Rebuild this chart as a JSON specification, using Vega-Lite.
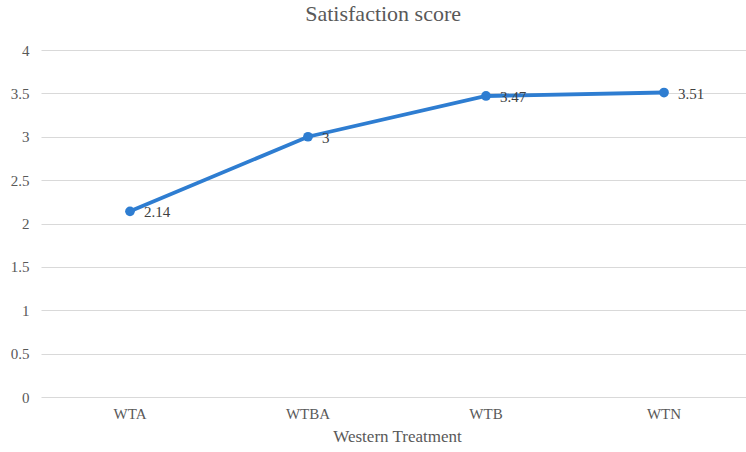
{
  "$schema": "https://vega.github.io/schema/vega-lite/v6.json",
  "autosize": {"type": "none"},
  "padding": {"left": 41, "top": 50, "right": 0, "bottom": 55},
  "width": 712,
  "height": 347,
  "background": "white",
  "config": {"view": {"stroke": null}, "font": "Liberation Serif",
    "axis": {"labelFont": "Liberation Serif", "titleFont": "Liberation Serif"},
    "text": {"font": "Liberation Serif"}},
  "title": {"text": "Satisfaction score", "fontSize": 22, "font": "Liberation Serif", "fontWeight": "normal", "color": "#595959", "anchor": "start", "dx": 295, "offset": 17},
  "data": {"values": [
    {"treatment": "WTA", "score": 2.14},
    {"treatment": "WTBA", "score": 3},
    {"treatment": "WTB", "score": 3.47},
    {"treatment": "WTN", "score": 3.51}
  ]},
  "encoding": {
    "x": {"field": "treatment", "type": "nominal", "sort": null,
      "scale": {"type": "band", "paddingInner": 0, "paddingOuter": 0},
      "axis": {"title": "Western Treatment", "labelAngle": 0, "domain": false, "ticks": false, "grid": false,
        "labelFont": "Liberation Serif", "labelFontSize": 15, "labelColor": "#595959", "labelPadding": 9,
        "titleFont": "Liberation Serif", "titleFontSize": 17, "titleFontWeight": "normal", "titleColor": "#595959", "titlePadding": 7}},
    "y": {"field": "score", "type": "quantitative",
      "scale": {"domain": [0, 4], "nice": false},
      "axis": {"title": null, "values": [0, 0.5, 1, 1.5, 2, 2.5, 3, 3.5, 4], "format": "~g", "domain": false, "ticks": false,
        "grid": true, "gridColor": "#D9D9D9", "gridWidth": 1.2,
        "labelFont": "Liberation Serif", "labelFontSize": 15, "labelColor": "#595959", "labelPadding": 12}}
  },
  "layer": [
    {"mark": {"type": "line", "color": "#2E7DD1", "strokeWidth": 3.8}},
    {"mark": {"type": "point", "filled": true, "opacity": 1, "color": "#2E7DD1", "size": 95}},
    {"mark": {"type": "text", "align": "left", "baseline": "middle", "dx": 14, "dy": 1, "fontSize": 15, "font": "Liberation Serif", "color": "#404040"},
      "encoding": {"text": {"field": "score", "type": "quantitative"}}}
  ]
}
